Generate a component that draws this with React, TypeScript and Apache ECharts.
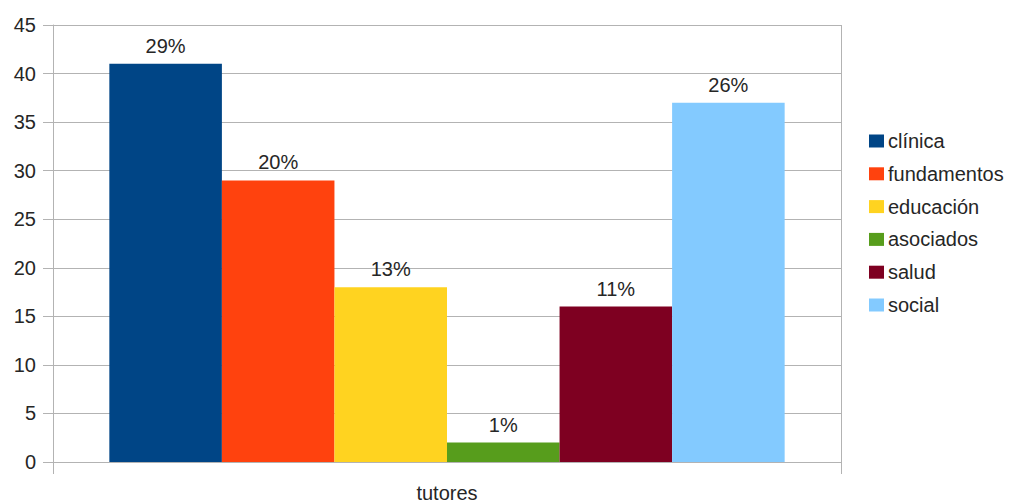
import React, { useEffect, useRef } from "react";
import * as echarts from "echarts";

const categories = ["tutores"];
const seriesNames = ["clínica", "fundamentos", "educación", "asociados", "salud", "social"];
const seriesValues = [41, 29, 18, 2, 16, 37];
const colors = ["#004586", "#ff420e", "#ffd320", "#579d1c", "#7e0021", "#83caff"];
const yTicks = { min: 0, max: 45, interval: 5 };

export default function App() {
  const ref = useRef<HTMLDivElement>(null);
  useEffect(() => {
    if (!ref.current) return;
    const chart = echarts.init(ref.current, undefined, { renderer: "svg" });
    const total = seriesValues.reduce((a, b) => a + b, 0);
    const font = "'Liberation Sans', Arial, sans-serif";
    const fs = 20;
    const txt = "#262626";
    chart.setOption({
      animation: false,
      textStyle: { fontFamily: font },
      grid: { left: 53, right: 181, top: 25, bottom: 40, containLabel: false },
      legend: {
        orient: "vertical",
        left: 869,
        top: 131,
        padding: 0,
        itemWidth: 15,
        itemHeight: 13,
        itemGap: 12.8,
        icon: "rect",
        textStyle: { fontSize: fs, color: txt, fontFamily: font, lineHeight: 20, padding: [0, 0, 0, -1] },
        data: seriesNames,
      },
      xAxis: {
        type: "category",
        data: categories,
        axisLine: { lineStyle: { color: "#b3b3b3" } },
        axisTick: { show: true, length: 12, alignWithLabel: false, lineStyle: { color: "#b3b3b3" } },
        splitLine: { show: true, lineStyle: { color: "#b3b3b3" } },
        axisLabel: { fontSize: fs, color: txt, margin: 21, fontFamily: font },
      },
      yAxis: {
        type: "value",
        min: yTicks.min,
        max: yTicks.max,
        interval: yTicks.interval,
        axisLine: { show: true, lineStyle: { color: "#b3b3b3" } },
        axisTick: { show: true, length: 10, lineStyle: { color: "#b3b3b3" } },
        splitLine: { show: true, lineStyle: { color: "#b3b3b3" } },
        axisLabel: { fontSize: fs, color: txt, margin: 17, fontFamily: font },
      },
      series: seriesNames.map((name, i) => ({
        name,
        type: "bar",
        data: [seriesValues[i]],
        barGap: "0%",
        barCategoryGap: "14.3%",
        itemStyle: { color: colors[i] },
        label: {
          show: true,
          position: "top",
          distance: 8,
          fontSize: fs,
          color: txt,
          fontFamily: font,
          formatter: () => Math.round((seriesValues[i] / total) * 100) + "%",
        },
      })),
    });
    return () => chart.dispose();
  }, []);
  return <div ref={ref} style={{ width: 1022, height: 503, position: "absolute", left: 0, top: 0 }} />;
}
